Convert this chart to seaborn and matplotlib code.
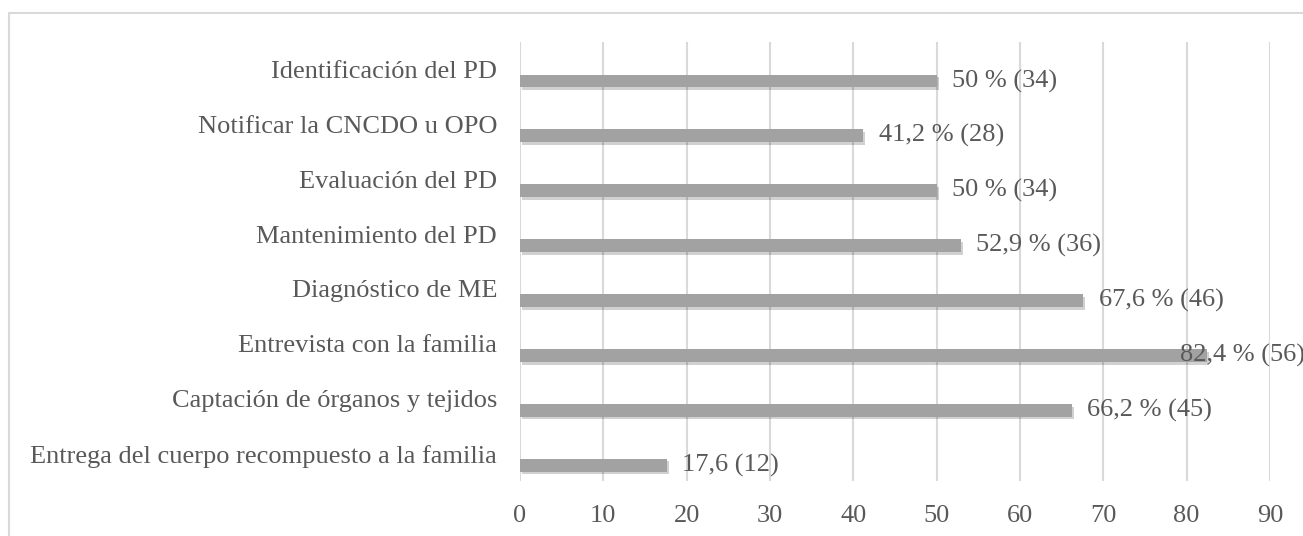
import pandas as pd
import seaborn as sns
import matplotlib.pyplot as plt
import matplotlib.patheffects as pe
from matplotlib.patches import Rectangle

categorias = [
    "Identificación del PD",
    "Notificar la CNCDO u OPO",
    "Evaluación del PD",
    "Mantenimiento del PD",
    "Diagnóstico de ME",
    "Entrevista con la familia",
    "Captación de órganos y tejidos",
    "Entrega del cuerpo recompuesto a la familia",
]
porcentajes = [50, 41.2, 50, 52.9, 67.6, 82.4, 66.2, 17.6]
etiquetas = ["50 % (34)", "41,2 % (28)", "50 % (34)", "52,9 % (36)",
             "67,6 % (46)", "82,4 % (56)", "66,2 % (45)", "17,6 (12)"]
# horizontal offset of each label from the bar end, in points
desplazamiento = [11, 11, 11, 11, 11, -19, 11, 11]
# bars sit a little below the category centre (as in the Excel original)
bajada = 0.21

df = pd.DataFrame({"categoria": categorias, "porcentaje": porcentajes})

sns.set_theme(style="white")
plt.rcParams["font.family"] = ["Liberation Serif", "DejaVu Serif"]
gris = "#595959"

fig = plt.figure(figsize=(13.03, 5.36), dpi=100)
ax = fig.add_axes([520 / 1303, 1 - 481 / 536, 750 / 1303, 439 / 536])

sns.barplot(data=df, x="porcentaje", y="categoria", orient="h",
            color="#a2a2a2", width=0.235, saturation=1, linewidth=0, ax=ax)

for barra in ax.patches:
    barra.set_y(barra.get_y() + bajada)
    barra.set_path_effects([
        pe.SimplePatchShadow(offset=(1.5, -2), shadow_rgbFace="#000000", alpha=0.18),
        pe.Normal(),
    ])

for i, (v, t) in enumerate(zip(porcentajes, etiquetas)):
    ax.annotate(t, xy=(v, i + bajada), xytext=(desplazamiento[i], 0), textcoords="offset points",
                ha="left", va="center", fontsize=19, color=gris, annotation_clip=False)

ax.set_xlim(0, 90)
ax.set_ylim(7.5, -0.5)
ax.set_xticks(range(0, 91, 10))
ax.set_xlabel("")
ax.set_ylabel("")
ax.grid(axis="x", color="#d9d9d9", linewidth=1.5)
ax.set_axisbelow(True)
for s in ax.spines.values():
    s.set_visible(False)
ax.tick_params(axis="both", length=0, labelsize=19, labelcolor=gris)
ax.tick_params(axis="y", pad=16.5)
ax.tick_params(axis="x", pad=17)

fig.patches.append(Rectangle((9 / 1303, -0.1), 1.0, 1 - 13 / 536 + 0.1,
                             transform=fig.transFigure, fill=False,
                             edgecolor="#d9d9d9", linewidth=1.5))

fig.savefig("out.png", dpi=100)
